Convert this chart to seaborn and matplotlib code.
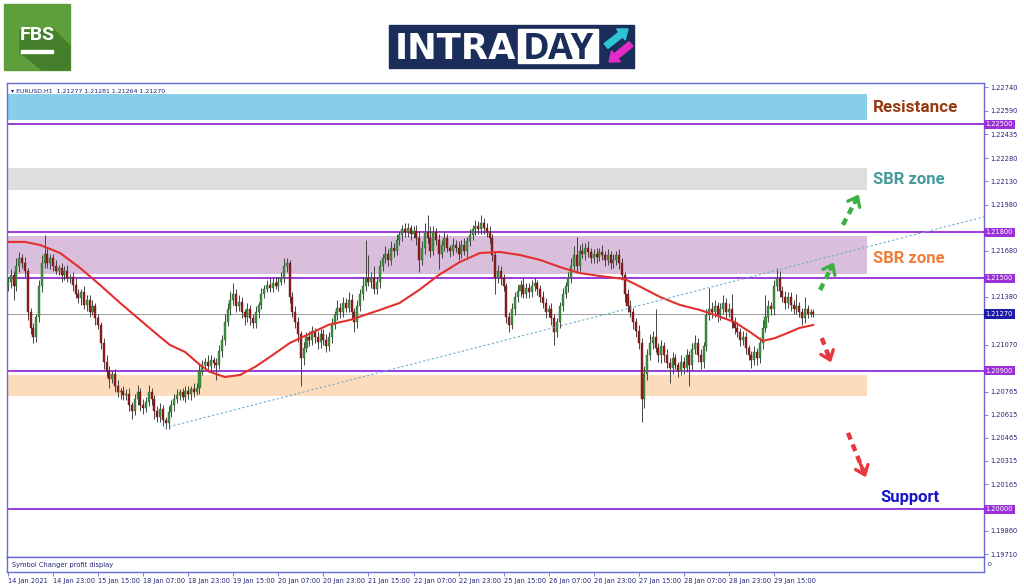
import numpy as np
import matplotlib
matplotlib.use("Agg")
import matplotlib.pyplot as plt
import seaborn as sns
from matplotlib.patches import Rectangle, Polygon, FancyArrow

# ---------------- data ----------------
first_open = 1.2145
closes = [
    1.2148, 1.2152, 1.2145, 1.2158, 1.2163, 1.2160, 1.2155, 1.2128, 1.2118, 1.2112, 1.2125, 1.2145, 1.2160, 1.2166, 1.2160, 1.2163,
    1.2158, 1.2155, 1.2157, 1.2152, 1.2155, 1.2150, 1.2151, 1.2146, 1.2140, 1.2137, 1.2141, 1.2133, 1.2136, 1.2128, 1.2132, 1.2124,
    1.2120, 1.2108, 1.2096, 1.2090, 1.2085, 1.2088, 1.2080, 1.2076, 1.2077, 1.2074, 1.2075, 1.2068, 1.2064, 1.2072, 1.2076, 1.2068,
    1.2066, 1.2070, 1.2076, 1.2072, 1.2064, 1.2060, 1.2065, 1.2058, 1.2056, 1.2063, 1.2068, 1.2072, 1.2074, 1.2076, 1.2073, 1.2077,
    1.2075, 1.2078, 1.2076, 1.2079, 1.2090, 1.2094, 1.2096, 1.2093, 1.2097, 1.2095, 1.2094, 1.2103, 1.2110, 1.2122, 1.2130, 1.2136,
    1.2140, 1.2132, 1.2135, 1.2128, 1.2125, 1.2130, 1.2124, 1.2121, 1.2128, 1.2133, 1.2140, 1.2143, 1.2146, 1.2144, 1.2147, 1.2145,
    1.2148, 1.2150, 1.2158, 1.2160, 1.2138, 1.2128, 1.2122, 1.2114, 1.2098, 1.2105, 1.2112, 1.2110, 1.2116, 1.2112, 1.2109, 1.2114,
    1.2110, 1.2106, 1.2112, 1.2120, 1.2126, 1.2131, 1.2128, 1.2134, 1.2131, 1.2136, 1.2128, 1.2122, 1.2132, 1.2140, 1.2145, 1.2150,
    1.2148, 1.2150, 1.2143, 1.2148, 1.2158, 1.2163, 1.2166, 1.2162, 1.2170, 1.2168, 1.2175, 1.2178, 1.2182, 1.2180, 1.2183, 1.2179,
    1.2181, 1.2176, 1.2162, 1.2170, 1.2180, 1.2176, 1.2168, 1.2180, 1.2175, 1.2166, 1.2172, 1.2176, 1.2170, 1.2168, 1.2172, 1.2170,
    1.2166, 1.2172, 1.2168, 1.2174, 1.2178, 1.2182, 1.2184, 1.2182, 1.2186, 1.2183, 1.2180, 1.2176, 1.2165, 1.2150, 1.2155, 1.2150,
    1.2145, 1.2125, 1.2120, 1.2130, 1.2138, 1.2142, 1.2146, 1.2140, 1.2144, 1.2141, 1.2145, 1.2147, 1.2143, 1.2138, 1.2134, 1.2128,
    1.2130, 1.2124, 1.2115, 1.2122, 1.2132, 1.2140, 1.2145, 1.2150, 1.2158, 1.2165, 1.2158, 1.2168, 1.2166, 1.2170, 1.2167, 1.2163,
    1.2166, 1.2164, 1.2167, 1.2165, 1.2162, 1.2165, 1.2160, 1.2162, 1.2165, 1.2160, 1.2152, 1.2140, 1.2132, 1.2128, 1.2122, 1.2116,
    1.2108, 1.2072, 1.2088, 1.2100, 1.2108, 1.2112, 1.2105, 1.2100, 1.2106, 1.2100, 1.2095, 1.2092, 1.2098, 1.2094, 1.2090, 1.2096,
    1.2092, 1.2100, 1.2094, 1.2104, 1.2108, 1.2100, 1.2096, 1.2106, 1.2126, 1.2130, 1.2128, 1.2132, 1.2126, 1.2130, 1.2134, 1.2128,
    1.2130, 1.2122, 1.2118, 1.2115, 1.2110, 1.2112, 1.2105, 1.2100, 1.2097, 1.2102, 1.2098, 1.2108, 1.2118, 1.2125, 1.2132, 1.2130,
    1.2145, 1.2150, 1.2142, 1.2138, 1.2134, 1.2138, 1.2133, 1.2130, 1.2132, 1.2128, 1.2124, 1.2130, 1.2127, 1.2128, 1.2127,
]
wick_up_pips = [
    3, 4, 3, 5, 4, 3, 4, 2, 3, 3, 2, 4, 5, 12, 4, 3,
    3, 4, 2, 3, 3, 4, 2, 3, 4, 3, 2, 4, 3, 3, 4, 2,
    3, 2, 3, 4, 3, 2, 3, 4, 2, 3, 3, 4, 2, 3, 5, 3,
    4, 3, 5, 3, 2, 3, 4, 3, 2, 4, 3, 3, 4, 2, 3, 3,
    3, 2, 4, 3, 5, 3, 2, 4, 3, 2, 3, 4, 3, 5, 4, 6,
    7, 3, 4, 3, 2, 4, 3, 3, 4, 2, 4, 3, 3, 4, 3, 4,
    3, 4, 5, 3, 2, 3, 4, 3, 2, 4, 3, 4, 3, 2, 4, 3,
    3, 4, 3, 4, 3, 5, 3, 4, 3, 5, 4, 3, 4, 3, 6, 25,
    15, 4, 8, 3, 4, 3, 5, 3, 4, 3, 4, 3, 3, 4, 3, 2,
    3, 4, 5, 4, 6, 11, 8, 4, 3, 4, 3, 4, 3, 2, 4, 3,
    4, 3, 4, 3, 4, 3, 4, 3, 5, 3, 3, 4, 3, 2, 4, 3,
    3, 2, 3, 4, 3, 4, 3, 4, 3, 3, 4, 3, 2, 3, 4, 3,
    3, 4, 3, 2, 3, 4, 3, 4, 5, 6, 12, 4, 5, 3, 4, 3,
    3, 4, 3, 5, 3, 4, 3, 4, 3, 4, 3, 2, 3, 4, 3, 2,
    4, 3, 5, 4, 6, 4, 18, 3, 4, 3, 4, 3, 4, 3, 2, 4,
    3, 4, 3, 4, 5, 3, 4, 3, 4, 14, 5, 4, 3, 4, 5, 3,
    4, 10, 3, 4, 3, 4, 3, 2, 3, 4, 3, 4, 5, 14, 4, 3,
    4, 7, 5, 3, 4, 3, 3, 3, 8, 3, 3, 8, 3, 2, 2,
]
wick_dn_pips = [
    3, 4, 9, 3, 4, 3, 4, 5, 4, 4, 3, 3, 4, 3, 3, 4,
    3, 2, 3, 4, 3, 2, 3, 4, 3, 3, 4, 3, 4, 3, 2, 4,
    3, 4, 5, 4, 6, 3, 4, 3, 4, 3, 3, 4, 5, 3, 4, 4,
    4, 3, 3, 4, 5, 3, 3, 4, 4, 4, 3, 4, 3, 3, 2, 3,
    3, 4, 3, 2, 4, 3, 3, 4, 3, 3, 10, 3, 4, 3, 3, 4,
    3, 4, 3, 4, 5, 3, 4, 3, 3, 4, 3, 3, 2, 3, 3, 2,
    3, 2, 3, 4, 4, 3, 4, 5, 18, 4, 3, 4, 3, 4, 5, 4,
    3, 4, 3, 4, 3, 3, 4, 3, 3, 3, 4, 7, 4, 3, 4, 3,
    3, 4, 3, 3, 4, 3, 3, 4, 3, 4, 3, 3, 4, 3, 3, 4,
    3, 4, 8, 3, 4, 3, 4, 3, 3, 10, 3, 4, 3, 4, 3, 3,
    4, 3, 3, 4, 3, 3, 4, 3, 3, 4, 3, 3, 4, 10, 3, 4,
    3, 4, 5, 3, 4, 3, 4, 3, 3, 4, 3, 3, 4, 3, 3, 4,
    3, 4, 8, 3, 4, 3, 3, 4, 3, 3, 4, 3, 3, 4, 3, 3,
    3, 4, 3, 3, 4, 3, 4, 3, 3, 4, 3, 5, 4, 3, 5, 4,
    4, 15, 6, 4, 3, 4, 3, 4, 5, 4, 3, 10, 4, 3, 4, 3,
    4, 3, 14, 4, 3, 4, 5, 4, 3, 3, 4, 3, 4, 3, 3, 4,
    3, 4, 4, 3, 4, 3, 4, 3, 5, 3, 4, 3, 4, 3, 3, 4,
    4, 3, 4, 3, 4, 3, 4, 3, 3, 3, 4, 3, 3, 2, 2,
]
ma_bars = [0, 6, 11.4, 18.5, 25.6, 32.7, 39.8, 46.9, 54, 57.5, 62.9, 68.2, 71.7, 77, 82.4, 87.7,
           93, 100, 107, 114, 121.4, 132, 139, 146, 153, 160.5, 167.6, 174.7, 181.8, 189, 196,
           203, 210, 219, 224, 231.5, 238.6, 245.7, 251, 258, 263.5, 268, 272.4, 277.7, 281, 286]
ma_values = [1.21737, 1.21737, 1.21717, 1.21665, 1.21568, 1.21457, 1.21341, 1.21230, 1.21120, 1.21068,
             1.21022, 1.20938, 1.20893, 1.20860, 1.20873, 1.20925, 1.20990, 1.21080, 1.21140, 1.21200,
             1.21230, 1.21295, 1.21340, 1.21425, 1.21522, 1.21607, 1.21665, 1.21672, 1.21652, 1.21620,
             1.21574, 1.21535, 1.21516, 1.21496, 1.21451, 1.21380, 1.21328, 1.21295, 1.21263, 1.21217,
             1.21152, 1.21094, 1.21113, 1.21152, 1.21178, 1.21198]
trend_bars = [55.7, 346.6]
trend_prices = [1.2053, 1.2190]

zone_names = ["Resistance", "SBR upper", "SBR lower", "Demand"]
zone_lows = [1.22529, 1.22074, 1.21529, 1.20737]
zone_highs = [1.22695, 1.22217, 1.21776, 1.20873]
zone_colors = ["#87ceeb", "#dedede", "#d9bfdc", "#fcdcbb"]

level_prices = [1.22500, 1.21800, 1.21500, 1.20900, 1.20000]
current_price = 1.21270

ytick_values = [1.22740, 1.22590, 1.22435, 1.22280, 1.22130, 1.21980, 1.21680, 1.21380,
                1.21070, 1.20765, 1.20615, 1.20465, 1.20315, 1.20165, 1.19860, 1.19710]
xtick_bars = [0, 16, 32, 48, 64, 80, 96, 112, 128, 144, 160, 176, 192, 208, 224, 240, 256, 272]
xtick_labels = ["14 Jan 2021", "14 Jan 23:00", "15 Jan 15:00", "18 Jan 07:00", "18 Jan 23:00",
                "19 Jan 15:00", "20 Jan 07:00", "20 Jan 23:00", "21 Jan 15:00", "22 Jan 07:00",
                "22 Jan 23:00", "25 Jan 15:00", "26 Jan 07:00", "26 Jan 23:00", "27 Jan 15:00",
                "28 Jan 07:00", "28 Jan 23:00", "29 Jan 15:00"]

# ---------------- style ----------------
sns.set_theme(style="white")
plt.rcParams["font.family"] = ["DejaVu Sans"]
FRAME = "#6a6ad6"
NAVY = "#23237a"
LEVEL = "#9a3bd8"
LABEL_FONT = ["Roboto", "DejaVu Sans"]

W, H = 1024, 587
fig = plt.figure(figsize=(W / 100, H / 100), dpi=100)
fig.patch.set_facecolor("white")


def fa(x0, y0, x1, y1):
    return [x0 / W, 1 - y1 / H, (x1 - x0) / W, (y1 - y0) / H]


ax = fig.add_axes(fa(7, 83, 984, 557), zorder=2)
sub = fig.add_axes(fa(7, 557, 984, 572), zorder=2)
ov = fig.add_axes([0, 0, 1, 1], zorder=1)
ov.set_xlim(0, W)
ov.set_ylim(H, 0)
ov.axis("off")

XMIN, XMAX = -0.36, 346.6
ax.set_xlim(XMIN, XMAX)
ax.set_ylim(1.19691, 1.22769)

# zones
zone_right = (305.0 - XMIN) / (XMAX - XMIN)
for lo_, hi_, col in zip(zone_lows, zone_highs, zone_colors):
    ax.axhspan(lo_, hi_, xmin=0, xmax=zone_right, color=col, lw=0, zorder=1)

# level lines
for lv in level_prices:
    ax.axhline(lv, color=LEVEL, lw=1.4, zorder=2)
ax.axhline(current_price, color="#9c9c9c", lw=0.7, zorder=2)

# candles
c = np.array(closes)
o = np.array([first_open] + closes[:-1])
hi = np.maximum(o, c) + np.array(wick_up_pips) * 1e-4
lo = np.minimum(o, c) - np.array(wick_dn_pips) * 1e-4
idx = np.arange(len(c))
up = c >= o
ax.vlines(idx, lo, hi, color="#454545", lw=0.7, zorder=3)
ax.bar(idx[up], np.maximum((c - o)[up], 0.00003), bottom=o[up], width=0.72,
       color="#3e8e3e", edgecolor="#2c6a2c", lw=0.3, zorder=4)
ax.bar(idx[~up], (o - c)[~up], bottom=c[~up], width=0.72,
       color="#8e1e1e", edgecolor="#6a1414", lw=0.3, zorder=4)

# moving average
sns.lineplot(x=ma_bars, y=ma_values, ax=ax, color="#e3302c", lw=1.5, zorder=5, sort=False)

# trend line
ax.plot(trend_bars, trend_prices, ls=(0, (2, 2)), color="#6aaed0", lw=0.8, zorder=5)

# arrows
arrows = [((288.4, 1.21425), (293.7, 1.21620), "#3cb043"),
          ((296.5, 1.21847), (302.6, 1.22061), "#3cb043"),
          ((289.0, 1.21113), (292.6, 1.20938), "#e8383d"),
          ((298.3, 1.20497), (305.0, 1.20192), "#e8383d")]
for (x0, y0), (x1, y1), col in arrows:
    ax.plot([x0, x0 + 0.85 * (x1 - x0)], [y0, y0 + 0.85 * (y1 - y0)],
            color=col, lw=3.2, ls=(0, (1.6, 1.2)), solid_capstyle="butt", zorder=6)
    ax.annotate("", xy=(x1, y1), xytext=(x0 + 0.6 * (x1 - x0), y0 + 0.6 * (y1 - y0)),
                arrowprops=dict(arrowstyle="->,head_length=0.5,head_width=0.4", color=col, lw=2.4),
                zorder=6)

# zone labels
ax.text(307.2, 1.22607, "Resistance", color="#963a12", fontsize=12.3, fontweight="bold",
        family=LABEL_FONT, va="center", ha="left", zorder=7)
ax.text(307.2, 1.22145, "SBR zone", color="#459b9b", fontsize=12, fontweight="bold",
        family=LABEL_FONT, va="center", ha="left", zorder=7)
ax.text(307.2, 1.21627, "SBR zone", color="#f07e3a", fontsize=12, fontweight="bold",
        family=LABEL_FONT, va="center", ha="left", zorder=7)
ax.text(309.7, 1.20080, "Support", color="#1616c8", fontsize=12, fontweight="bold",
        family=LABEL_FONT, va="center", ha="left", zorder=7)

# header text
ax.text(0.004, 0.988, "\u25be EURUSD,H1  1.21277 1.21281 1.21264 1.21270", transform=ax.transAxes,
        fontsize=4.5, color=NAVY, va="top", ha="left", zorder=8)

# y axis (right)
ax.yaxis.tick_right()
ax.set_yticks(ytick_values)
ax.set_yticklabels([f"{v:.5f}" for v in ytick_values])
ax.tick_params(axis="y", right=True, length=3, width=0.6, color=FRAME, labelsize=4.8,
               labelcolor=NAVY, pad=1.5)
ax.set_xticks([])
for s in ax.spines.values():
    s.set_color(FRAME)
    s.set_linewidth(1.0)

# price boxes on the right
ytr = ax.get_yaxis_transform()
for lv in level_prices:
    ax.text(1.0015, lv, f"{lv:.5f}", transform=ytr, fontsize=4.8, color="white", ha="left",
            va="center", clip_on=False, zorder=9,
            bbox=dict(boxstyle="square,pad=0.25", fc="#9b30d9", ec="none"))
ax.text(1.0015, current_price, f"{current_price:.5f}", transform=ytr, fontsize=4.8, color="white",
        ha="left", va="center", clip_on=False, zorder=9,
        bbox=dict(boxstyle="square,pad=0.25", fc="#1c1ca8", ec="none"))

# sub panel + time axis
sub.set_xlim(XMIN, XMAX)
sub.set_ylim(0, 1)
sub.set_yticks([])
sub.text(0.005, 0.5, "Symbol Changer profit display", transform=sub.transAxes, fontsize=4.8,
         color=NAVY, va="center", ha="left")
sub.set_xticks(xtick_bars)
sub.set_xticklabels(xtick_labels)
for lab in sub.get_xticklabels():
    lab.set_horizontalalignment("left")
sub.tick_params(axis="x", bottom=True, length=3, width=0.6, color=FRAME, labelsize=4.8,
                labelcolor=NAVY, pad=1.5)
for s in sub.spines.values():
    s.set_color(FRAME)
    s.set_linewidth(1.0)
fig.text(988 / W, 1 - 565 / H, "0", fontsize=4.5, color=NAVY, va="center", ha="left")

# ---------------- logos ----------------
ov.add_patch(Rectangle((4, 4), 66, 66, color="#5e9f3b", zorder=1))
ov.add_patch(Polygon([(20, 30), (54, 30), (70, 46), (70, 70), (42, 70), (20, 52)],
                     closed=True, color="#467f2b", zorder=2))
ov.text(37, 35, "FBS", color="white", fontsize=14, fontweight="bold", ha="center", va="center",
        family=["Roboto", "DejaVu Sans"], zorder=3)
ov.add_patch(Rectangle((21, 50), 32, 3, color="white", zorder=3))

ov.add_patch(Rectangle((389, 25), 245, 43, color="#1b2d5a", zorder=1))
ov.text(395, 59, "INTRA", color="white", fontsize=25.5, fontweight="bold", ha="left",
        va="baseline", family=["DejaVu Sans"], zorder=3)
ov.add_patch(Rectangle((518, 29), 80, 34, color="white", zorder=2))
ov.text(558, 59, "DAY", color="#1b2d5a", fontsize=26, fontweight="bold", ha="center",
        va="baseline", family=["Open Sans", "DejaVu Sans"], zorder=3)
ov.add_patch(FancyArrow(606, 46, 22, -17, width=6, head_width=14, head_length=9,
                        length_includes_head=True, color="#2ec4d4", zorder=3))
ov.add_patch(FancyArrow(631, 44, -22, 18, width=6, head_width=14, head_length=9,
                        length_includes_head=True, color="#e42bc8", zorder=3))

fig.savefig("out.png", dpi=100, facecolor="white")
